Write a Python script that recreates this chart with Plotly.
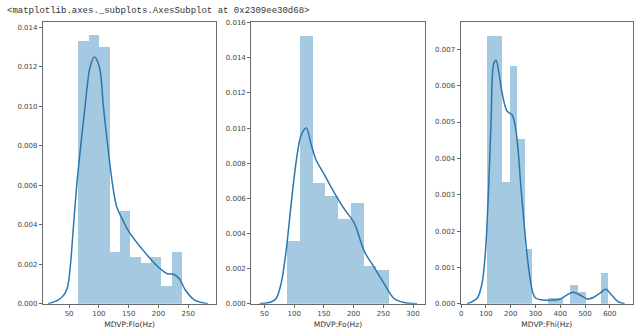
import numpy as np
import plotly.graph_objects as go

# ---- data -------------------------------------------------------------
# MDVP:Flo(Hz): histogram (density) over 10 equal bins between min and max
flo_lo, flo_hi = 65.48, 239.17
flo_density = [0.01331, 0.01359, 0.01301, 0.00264, 0.00471,
               0.00235, 0.00205, 0.00235, 0.00089, 0.00264]
flo_kde_x = [15, 32, 40, 47, 52, 57, 62.8, 69.5, 76.8, 85.2, 92.4, 100.8,
             107.5, 114.8, 123.1, 130, 140, 150, 175, 200, 215, 225, 235,
             245, 260, 283]
flo_kde_y = [0, 0.0002, 0.0004, 0.0008, 0.0019, 0.0038, 0.006, 0.008, 0.010,
             0.012, 0.0125, 0.012, 0.010, 0.008, 0.006, 0.0049, 0.00425,
             0.00367, 0.00268, 0.00185, 0.00152, 0.0015, 0.00127, 0.0007,
             0.0002, 0]

# MDVP:Fo(Hz): 8 bins
fo_lo, fo_hi = 88.33, 260.11
fo_density = [0.00356, 0.01522, 0.00689, 0.00615, 0.00480, 0.00572,
              0.00213, 0.00189]
fo_kde_x = [41.6, 61, 69.6, 78, 86.4, 94.7, 103, 111.5, 120.5, 128.3, 136.7,
            150.7, 167.4, 184.2, 201, 217.8, 234.6, 251.3, 268, 285, 307]
fo_kde_y = [0, 0.0001, 0.0003, 0.00115, 0.003, 0.0056, 0.008, 0.00957,
            0.0100, 0.0091, 0.0082, 0.00735, 0.00633, 0.0054, 0.0046,
            0.003, 0.00207, 0.00115, 0.0003, 0.00007, 0]

# MDVP:Fhi(Hz): 16 bins
fhi_lo, fhi_hi = 102.15, 592.03
fhi_density = [0.00737, 0.00737, 0.00335, 0.00653, 0.00452, 0.00151,
               0.0, 0.0, 0.000167, 0.000167, 0.0, 0.000502, 0.000335,
               0.0, 0.0, 0.000837]
fhi_kde_x = [24, 64, 84, 98, 111, 120.5, 131, 140.6, 151, 165, 185, 205,
             218, 230, 240, 252, 265, 278, 290, 300, 320, 360, 400, 426,
             452, 479, 513, 535, 560, 584, 607, 633, 660]
fhi_kde_y = [0, 0.00015, 0.00056, 0.00145, 0.00325, 0.00504, 0.0066,
             0.0067, 0.0064, 0.0058, 0.0053, 0.0052, 0.0049, 0.0042,
             0.0033, 0.00235, 0.0014, 0.0007, 0.00028, 0.00016, 0.00011,
             0.0001, 0.00013, 0.00024, 0.00032, 0.00024, 0.00013, 0.00018,
             0.00029, 0.0004, 0.00024, 0.00006, 0]

panels = [
    dict(name="MDVP:Flo(Hz)", lo=flo_lo, hi=flo_hi, dens=flo_density,
         kx=flo_kde_x, ky=flo_kde_y, xr=[6, 297], yr=[0, 0.014273],
         xt=[50, 100, 150, 200, 250], yt=np.arange(0, 0.0141, 0.002),
         dom=[41, 215]),
    dict(name="MDVP:Fo(Hz)", lo=fo_lo, hi=fo_hi, dens=fo_density,
         kx=fo_kde_x, ky=fo_kde_y, xr=[27.7, 319.6], yr=[0, 0.01603],
         xt=[50, 100, 150, 200, 250, 300], yt=np.arange(0, 0.0161, 0.002),
         dom=[250, 424]),
    dict(name="MDVP:Fhi(Hz)", lo=fhi_lo, hi=fhi_hi, dens=fhi_density,
         kx=fhi_kde_x, ky=fhi_kde_y, xr=[-2.7, 693.6], yr=[0, 0.00775],
         xt=[0, 100, 200, 300, 400, 500, 600], yt=np.arange(0, 0.00701, 0.001),
         dom=[460, 633]),
]

W, H = 638, 330
BAR = "rgba(31,119,180,0.4)"
LINE = "#2a77b0"
SPINE = "#6a6a6a"
TICKFONT = dict(family="DejaVu Sans", size=7, color="#444444")

fig = go.Figure()
layout = dict(
    width=W, height=H, margin=dict(l=0, r=0, t=0, b=0),
    paper_bgcolor="white", plot_bgcolor="white", showlegend=False,
    bargap=0,
)

y_bottom = 1 - 307.3 / H
y_top = 1 - 19.5 / H

for i, p in enumerate(panels, start=1):
    xa = "x" if i == 1 else f"x{i}"
    ya = "y" if i == 1 else f"y{i}"
    n = len(p["dens"])
    edges = np.linspace(p["lo"], p["hi"], n + 1)
    centers = (edges[:-1] + edges[1:]) / 2
    width = edges[1] - edges[0]
    fig.add_trace(go.Bar(x=centers, y=p["dens"], width=width,
                         marker=dict(color=BAR, line=dict(width=0)),
                         xaxis=xa, yaxis=ya))
    fig.add_trace(go.Scatter(x=p["kx"], y=p["ky"], mode="lines",
                             line=dict(color=LINE, width=1.5,
                                       shape="spline", smoothing=0.9),
                             xaxis=xa, yaxis=ya))
    axis_common = dict(showline=True, linecolor=SPINE, linewidth=1,
                       mirror=True, showgrid=False, zeroline=False,
                       ticks="outside", ticklen=3, tickwidth=1,
                       tickcolor=SPINE, tickfont=TICKFONT)
    layout["xaxis" if i == 1 else f"xaxis{i}"] = dict(
        axis_common, domain=[p["dom"][0] / W, p["dom"][1] / W],
        range=p["xr"], tickvals=p["xt"], anchor=ya,
        title=dict(text=p["name"], standoff=4,
                   font=dict(family="DejaVu Sans", size=7.5, color="#333333")))
    layout["yaxis" if i == 1 else f"yaxis{i}"] = dict(
        axis_common, domain=[y_bottom, y_top], range=p["yr"],
        tickvals=list(p["yt"]), tickformat=".3f", anchor=xa)

layout["annotations"] = [dict(
    text="&lt;matplotlib.axes._subplots.AxesSubplot at 0x2309ee30d68&gt;",
    xref="paper", yref="paper", x=3 / W, y=1 - 1 / H,
    xanchor="left", yanchor="top", showarrow=False,
    font=dict(family="Liberation Mono", size=9, color="#333333"))]

fig.update_layout(**layout)
fig.write_html("out.html")
